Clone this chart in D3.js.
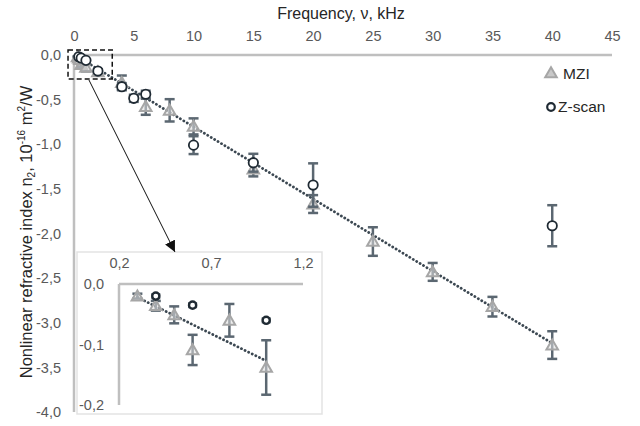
<!DOCTYPE html>
<html>
<head>
<meta charset="utf-8">
<script src="https://cdn.jsdelivr.net/npm/d3@7"></script>
<style>
  html, body { margin: 0; padding: 0; background: #fff; }
  svg { display: block; font-family: "Liberation Sans", Arial, sans-serif; }
</style>
</head>
<body>
<svg id="chart" width="640" height="426"></svg>
<script>
// ---- data ----
const mziFreq = [0.3, 0.4, 0.5, 0.6, 0.8, 1.0, 2, 4, 6, 8, 10, 15, 20, 25, 30, 35, 40];
const mziN2   = [-0.02, -0.036, -0.051, -0.109, -0.06, -0.138, -0.19, -0.31, -0.58, -0.62, -0.80, -1.28, -1.67, -2.09, -2.43, -2.82, -3.25];
const mziErr  = [0.004, 0.008, 0.014, 0.025, 0.027, 0.045, 0.03, 0.08, 0.09, 0.125, 0.09, 0.08, 0.1, 0.16, 0.1, 0.11, 0.155];

const zFreq = [0.4, 0.6, 1.0, 2, 4, 5, 6, 10, 15, 20, 40];
const zN2   = [-0.02, -0.035, -0.06, -0.18, -0.355, -0.485, -0.44, -1.01, -1.207, -1.457, -1.913];
const zErr  = [0.003, 0.003, 0.003, 0.02, 0.04, 0.04, 0.04, 0.1, 0.1, 0.243, 0.23];

const trendFreq = [0.3, 40];
const trendN2   = [-0.02, -3.23];
const insetTrendFreq = [0.3, 1.0];
const insetTrendN2   = [-0.022, -0.127];

const xTicks = [0, 5, 10, 15, 20, 25, 30, 35, 40, 45];
const yTicks = [0, -0.5, -1, -1.5, -2, -2.5, -3, -3.5, -4];
const insetXTicks = [0.2, 0.7, 1.2];
const insetYTicks = [0, -0.1, -0.2];
const insetMaxFreq = 1.0;

const xTitle = "Frequency, ν, kHz";
const seriesNames = ["MZI", "Z-scan"];

// ---- setup ----
const locale = d3.formatLocale({decimal: ",", thousands: " ", grouping: [3], currency: ["", ""], minus: "-"});
const fmt1 = locale.format(".1f");
const fmt0 = locale.format("d");

const svg = d3.select("#chart");
const axisColor = "#bfbfbf";
const tickColor = "#595959";
const errColor = "#5b6771";
const triStroke = "#a6a6a6";
const circStroke = "#1f2a33";

const x = d3.scaleLinear().domain([0, 45]).range([74, 612]);
const y = d3.scaleLinear().domain([0, -4]).range([55, 412]);

const mzi = mziFreq.map((f, i) => ({f, v: mziN2[i], e: mziErr[i]}));
const zs  = zFreq.map((f, i) => ({f, v: zN2[i], e: zErr[i]}));

// axis lines
svg.append("line").attr("x1", x(0)).attr("x2", x(45)).attr("y1", y(0)).attr("y2", y(0))
  .attr("stroke", axisColor).attr("stroke-width", 2.5);
svg.append("line").attr("x1", x(0)).attr("x2", x(0)).attr("y1", y(0)).attr("y2", y(-4))
  .attr("stroke", axisColor).attr("stroke-width", 2.5);

// top axis ticks
const gx = svg.append("g").attr("transform", `translate(0,${y(0) - 14})`)
  .call(d3.axisTop(x).tickValues(xTicks).tickFormat(fmt0).tickSize(0).tickPadding(0));
gx.select(".domain").remove();
gx.selectAll("text").attr("fill", tickColor).attr("font-size", 14.5).attr("font-family", "Liberation Sans, Arial, sans-serif");

// left axis ticks
const gy = svg.append("g").attr("transform", `translate(${x(0) - 13},0)`)
  .call(d3.axisLeft(y).tickValues(yTicks).tickFormat(fmt1).tickSize(0).tickPadding(0));
gy.select(".domain").remove();
gy.selectAll("text").attr("fill", tickColor).attr("font-size", 14.5).attr("font-family", "Liberation Sans, Arial, sans-serif");

// titles
svg.append("text").attr("x", 341).attr("y", 19).attr("text-anchor", "middle")
  .attr("font-size", 16).attr("fill", "#262626").text(xTitle);

const yt = svg.append("text").attr("transform", "translate(32,232) rotate(-90)")
  .attr("text-anchor", "middle").attr("font-size", 16.5).attr("fill", "#262626");
yt.append("tspan").text("Nonlinear refractive index n");
yt.append("tspan").attr("font-size", 10).attr("dy", 3).text("2");
yt.append("tspan").attr("dy", -3).text(", 10");
yt.append("tspan").attr("font-size", 10).attr("dy", -7).text("-16");
yt.append("tspan").attr("dy", 7).text(" m");
yt.append("tspan").attr("font-size", 10).attr("dy", -7).text("2");
yt.append("tspan").attr("dy", 7).text("/W");

// helpers
function dottedLine(g, xs, ys, fx, fy, w) {
  g.append("path")
    .attr("d", d3.line()(xs.map((f, i) => [fx(f), fy(ys[i])])))
    .attr("fill", "none").attr("stroke", "#3c4852").attr("stroke-width", w)
    .attr("stroke-linecap", "round").attr("stroke-dasharray", "0.1 3.9");
}
function errorBars(g, data, fx, fy, cap) {
  const eb = g.append("g").attr("stroke", errColor).attr("stroke-width", 2.5).attr("fill", "none");
  data.forEach(d => {
    const cx = fx(d.f), y1 = fy(d.v + d.e), y2 = fy(d.v - d.e);
    eb.append("line").attr("x1", cx).attr("x2", cx).attr("y1", y1).attr("y2", y2);
    eb.append("line").attr("x1", cx - cap).attr("x2", cx + cap).attr("y1", y1).attr("y2", y1);
    eb.append("line").attr("x1", cx - cap).attr("x2", cx + cap).attr("y1", y2).attr("y2", y2);
  });
}
const triSym = d3.symbol().type(d3.symbolTriangle).size(58);
function triangles(g, data, fx, fy) {
  g.selectAll(null).data(data).enter().append("path")
    .attr("d", triSym)
    .attr("transform", d => `translate(${fx(d.f)},${fy(d.v) + 1})`)
    .attr("fill", "#e0e0e0").attr("fill-opacity", 0.55)
    .attr("stroke", triStroke).attr("stroke-width", 2);
}
function circles(g, data, fx, fy, r, sw) {
  g.selectAll(null).data(data).enter().append("circle")
    .attr("cx", d => fx(d.f)).attr("cy", d => fy(d.v)).attr("r", r)
    .attr("fill", "#fff").attr("stroke", circStroke).attr("stroke-width", sw);
}

// main plot marks
const main = svg.append("g");
dottedLine(main, trendFreq, trendN2, x, y, 2.8);
errorBars(main, mzi, x, y, 5);
triangles(main, mzi, x, y);
errorBars(main, zs, x, y, 5);
circles(main, zs, x, y, 4.7, 1.8);

// legend
const lg = svg.append("g");
lg.append("path").attr("d", triSym).attr("transform", "translate(551,74)")
  .attr("fill", "#c8c8c8").attr("stroke", triStroke).attr("stroke-width", 2);
lg.append("text").attr("x", 563).attr("y", 79).attr("font-size", 15.5).attr("fill", "#262626").text(seriesNames[0]);
lg.append("circle").attr("cx", 551).attr("cy", 107).attr("r", 3.8)
  .attr("fill", "#fff").attr("stroke", circStroke).attr("stroke-width", 2.2);
lg.append("text").attr("x", 558).attr("y", 112).attr("font-size", 15.5).attr("fill", "#262626").text(seriesNames[1]);

// ---- inset ----
const xi = d3.scaleLinear().domain([0.2, 1.2]).range([119, 303]);
const yi = d3.scaleLinear().domain([0, -0.2]).range([284, 405]);

svg.append("rect").attr("x", 77).attr("y", 252).attr("width", 245).attr("height", 162)
  .attr("fill", "#fff").attr("stroke", "#e3e3e3").attr("stroke-width", 1.5);

svg.append("line").attr("x1", xi(0.2)).attr("x2", xi(1.2)).attr("y1", yi(0)).attr("y2", yi(0))
  .attr("stroke", axisColor).attr("stroke-width", 2.5);
svg.append("line").attr("x1", xi(0.2)).attr("x2", xi(0.2)).attr("y1", yi(0)).attr("y2", yi(-0.2))
  .attr("stroke", axisColor).attr("stroke-width", 2.5);

const gxi = svg.append("g").attr("transform", `translate(0,${yi(0) - 16})`)
  .call(d3.axisTop(xi).tickValues(insetXTicks).tickFormat(fmt1).tickSize(0).tickPadding(0));
gxi.select(".domain").remove();
gxi.selectAll("text").attr("fill", tickColor).attr("font-size", 14.5).attr("font-family", "Liberation Sans, Arial, sans-serif");

const gyi = svg.append("g").attr("transform", `translate(${xi(0.2) - 15},0)`)
  .call(d3.axisLeft(yi).tickValues(insetYTicks).tickFormat(fmt1).tickSize(0).tickPadding(0));
gyi.select(".domain").remove();
gyi.selectAll("text").attr("fill", tickColor).attr("font-size", 14.5).attr("font-family", "Liberation Sans, Arial, sans-serif");

const inset = svg.append("g");
const mziIn = mzi.filter(d => d.f <= insetMaxFreq);
const zIn = zs.filter(d => d.f <= insetMaxFreq);
dottedLine(inset, insetTrendFreq, insetTrendN2, xi, yi, 2.8);
errorBars(inset, mziIn, xi, yi, 5);
triangles(inset, mziIn, xi, yi);
errorBars(inset, zIn, xi, yi, 4.5);
circles(inset, zIn, xi, yi, 3.6, 2.4);

// ---- zoom annotation ----
svg.append("rect").attr("x", x(-0.5)).attr("y", y(0.057)).attr("width", x(3.2) - x(-0.5)).attr("height", y(-0.27) - y(0.057))
  .attr("fill", "none").attr("stroke", "#111").attr("stroke-width", 1.5).attr("stroke-dasharray", "5 3");

svg.append("defs").append("marker").attr("id", "ah").attr("viewBox", "0 0 10 10")
  .attr("refX", 10).attr("refY", 5).attr("markerWidth", 11).attr("markerHeight", 11)
  .attr("markerUnits", "userSpaceOnUse").attr("orient", "auto")
  .append("path").attr("d", "M0,0 L10,5 L0,10 Z").attr("fill", "#111");
svg.append("line").attr("x1", x(1.25)).attr("y1", y(-0.28)).attr("x2", xi(0.504)).attr("y2", yi(0.053))
  .attr("stroke", "#111").attr("stroke-width", 1).attr("marker-end", "url(#ah)");
</script>
</body>
</html>
